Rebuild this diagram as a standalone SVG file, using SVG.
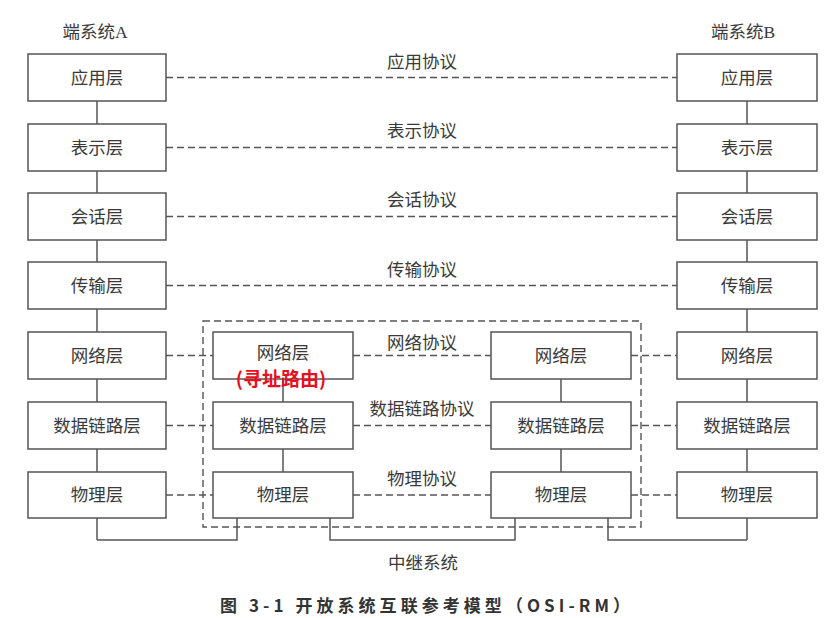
<svg xmlns="http://www.w3.org/2000/svg" width="830" height="618" viewBox="0 0 830 618">
<style>
text{font-family:"Liberation Serif","Noto Sans CJK SC",serif;fill:#3a3a3a;text-anchor:middle;dominant-baseline:central}
.box{fill:#fff;stroke:#555;stroke-width:1.5}
.t{font-size:17.5px}
.p{font-size:17.5px}
.solid{stroke:#555;stroke-width:1.5;fill:none}
.dash{stroke:#555;stroke-width:1.4;fill:none;stroke-dasharray:7 4}
.red{fill:#e8101e;font-family:"Noto Sans CJK SC",sans-serif;font-weight:bold;font-size:19px}
.cap{font-family:"Noto Sans CJK SC",sans-serif;font-weight:bold;font-size:17px;fill:#333}
</style>
<rect width="830" height="618" fill="#fff"/>
<g id="connectors">
<path class="solid" d="M97,101V540M747,101V540M283,379V472M561,379V472"/>
<path class="solid" d="M97,540H237V518M330,518V540H515V518M608,518V540H747"/>
<path class="dash" d="M166,77.5H677M166,147.5H677M166,216.5H677M166,285.5H677"/>
<path class="dash" d="M166,355.5H213M353,355.5H491M631,355.5H677"/>
<path class="dash" d="M166,425.5H213M353,425.5H491M631,425.5H677"/>
<path class="dash" d="M166,495H213M353,495H491M631,495H677"/>
<rect class="dash" x="203" y="321" width="438" height="206"/>
</g>
<g id="labels">
<text class="t" x="95" y="32">端系统A</text>
<text class="t" x="743" y="32">端系统B</text>
<text class="p" x="422" y="62">应用协议</text>
<text class="p" x="422" y="131">表示协议</text>
<text class="p" x="422" y="200">会话协议</text>
<text class="p" x="422" y="270">传输协议</text>
<text class="p" x="422" y="343">网络协议</text>
<text class="p" x="422" y="409">数据链路协议</text>
<text class="p" x="422" y="479">物理协议</text>
<text class="p" x="423" y="563">中继系统</text>
<text class="cap" x="425" y="604" textLength="410" lengthAdjust="spacing">图 3-1  开放系统互联参考模型（OSI-RM）</text>
</g>
<g id="sysA">
<g id="a-app"><rect class="box" x="28" y="54" width="138" height="47"/><text class="t" x="97" y="77.5">应用层</text></g>
<g id="a-pre"><rect class="box" x="28" y="124" width="138" height="47"/><text class="t" x="97" y="147.5">表示层</text></g>
<g id="a-ses"><rect class="box" x="28" y="193" width="138" height="47"/><text class="t" x="97" y="216.5">会话层</text></g>
<g id="a-tra"><rect class="box" x="28" y="262" width="138" height="47"/><text class="t" x="97" y="285.5">传输层</text></g>
<g id="a-net"><rect class="box" x="28" y="332" width="138" height="47"/><text class="t" x="97" y="355.5">网络层</text></g>
<g id="a-dl"><rect class="box" x="28" y="402" width="138" height="47"/><text class="t" x="97" y="425.5">数据链路层</text></g>
<g id="a-phy"><rect class="box" x="28" y="472" width="138" height="46"/><text class="t" x="97" y="495">物理层</text></g>
</g>
<g id="sysB">
<g id="b-app"><rect class="box" x="677" y="54" width="140" height="47"/><text class="t" x="747" y="77.5">应用层</text></g>
<g id="b-pre"><rect class="box" x="677" y="124" width="140" height="47"/><text class="t" x="747" y="147.5">表示层</text></g>
<g id="b-ses"><rect class="box" x="677" y="193" width="140" height="47"/><text class="t" x="747" y="216.5">会话层</text></g>
<g id="b-tra"><rect class="box" x="677" y="262" width="140" height="47"/><text class="t" x="747" y="285.5">传输层</text></g>
<g id="b-net"><rect class="box" x="677" y="332" width="140" height="47"/><text class="t" x="747" y="355.5">网络层</text></g>
<g id="b-dl"><rect class="box" x="677" y="402" width="140" height="47"/><text class="t" x="747" y="425.5">数据链路层</text></g>
<g id="b-phy"><rect class="box" x="677" y="472" width="140" height="46"/><text class="t" x="747" y="495">物理层</text></g>
</g>
<g id="relay1">
<g id="r1-net"><rect class="box" x="213" y="332" width="140" height="47"/><text class="t" x="283" y="353">网络层</text></g>
<g id="r1-dl"><rect class="box" x="213" y="402" width="140" height="47"/><text class="t" x="283" y="425.5">数据链路层</text></g>
<g id="r1-phy"><rect class="box" x="213" y="472" width="140" height="46"/><text class="t" x="283" y="495">物理层</text></g>
</g>
<g id="relay2">
<g id="r2-net"><rect class="box" x="491" y="332" width="140" height="47"/><text class="t" x="561" y="355.5">网络层</text></g>
<g id="r2-dl"><rect class="box" x="491" y="402" width="140" height="47"/><text class="t" x="561" y="425.5">数据链路层</text></g>
<g id="r2-phy"><rect class="box" x="491" y="472" width="140" height="46"/><text class="t" x="561" y="495">物理层</text></g>
</g>
<g id="note"><text class="red" x="281" y="377">(寻址路由)</text></g>
</svg>
